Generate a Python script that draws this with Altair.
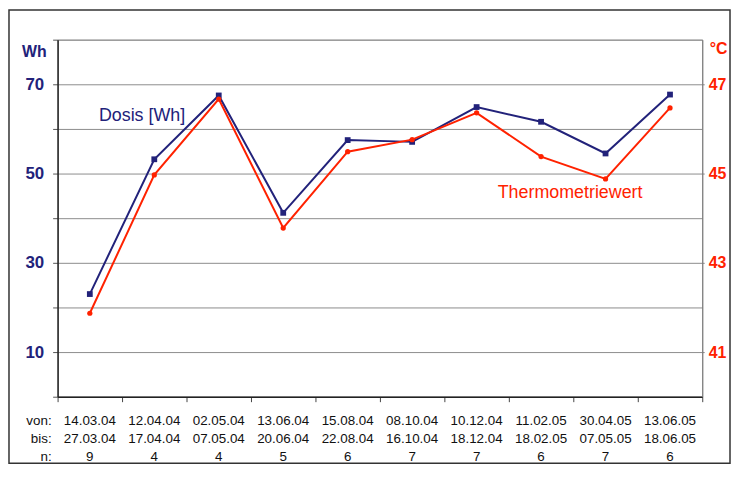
import altair as alt
import pandas as pd

von = ["14.03.04", "12.04.04", "02.05.04", "13.06.04", "15.08.04",
       "08.10.04", "10.12.04", "11.02.05", "30.04.05", "13.06.05"]
bis = ["27.03.04", "17.04.04", "07.05.04", "20.06.04", "22.08.04",
       "16.10.04", "18.12.04", "18.02.05", "07.05.05", "18.06.05"]
n_vals = [9, 4, 4, 5, 6, 7, 7, 6, 7, 6]
dosis = [23.0, 53.2, 67.5, 41.2, 57.5, 57.1, 64.9, 61.6, 54.5, 67.7]
thermo = [41.87, 44.97, 46.67, 43.78, 45.49, 45.76, 46.36, 45.38, 44.88, 46.47]

NAVY = "#22227a"
RED = "#ff2200"
FONT = "Liberation Sans"

df = pd.DataFrame({
    "i": list(range(len(von))),
    "von": von,
    "bis": bis,
    "n": [str(v) for v in n_vals],
    "dosis": dosis,
    "thermo": thermo,
})

x_enc = alt.X(
    "i:Q",
    scale=alt.Scale(domain=[-0.5, 9.5], nice=False, zero=False),
    axis=alt.Axis(values=[k - 0.5 for k in range(11)], labels=False, title=None,
                  grid=False, tickSize=5, tickColor="#444", domainColor="#222",
                  domainWidth=1.5),
)

y_blue = alt.Y(
    "dosis:Q",
    scale=alt.Scale(domain=[0, 80], nice=False, zero=False),
    axis=alt.Axis(values=list(range(0, 81, 10)),
                  labelExpr="datum.value % 20 == 10 ? datum.label : ''",
                  title="Wh", titleAngle=0, titleX=-24, titleY=12,
                  titleAlign="center", titleBaseline="middle",
                  titleColor=NAVY, titleFontSize=16, titleFontWeight="bold",
                  labelColor=NAVY, labelFontSize=17, labelFontWeight="bold",
                  labelPadding=9, tickSize=5, tickColor="#555",
                  grid=True, gridColor="#8c8c8c", gridWidth=1,
                  domainColor="#222", domainWidth=1.5),
)

y_red_axis = alt.Axis(orient="right", values=[41, 43, 45, 47],
                      title="°C", titleAngle=0, titleX=16, titleY=9,
                      titleAlign="center", titleBaseline="middle",
                      titleColor=RED, titleFontSize=16, titleFontWeight="bold",
                      labelColor=RED, labelFontSize=16, labelFontWeight="bold",
                      labelPadding=4, tickSize=2, tickColor="#888",
                      grid=False, domainColor="#777")
red_scale = alt.Scale(domain=[40, 48], nice=False, zero=False)

base = alt.Chart(df)

blue_line = base.mark_line(color=NAVY, strokeWidth=2).encode(x=x_enc, y=y_blue)
blue_pts = base.mark_square(color=NAVY, size=34, opacity=1).encode(x=x_enc, y=y_blue)
blue_lbl = alt.Chart(pd.DataFrame({"i": [0.81], "dosis": [62.9], "t": ["Dosis [Wh]"]})).mark_text(
    color=NAVY, fontSize=18, font=FONT, align="center", baseline="middle"
).encode(x=alt.X("i:Q"), y=alt.Y("dosis:Q"), text="t:N")

row_y = [385, 403, 421]
TXT = dict(fontSize=13.5, font=FONT, color="#111", baseline="middle")
von_txt = base.mark_text(**TXT).encode(x=alt.X("i:Q"), y=alt.value(row_y[0]), text="von:N")
bis_txt = base.mark_text(**TXT).encode(x=alt.X("i:Q"), y=alt.value(row_y[1]), text="bis:N")
n_txt = base.mark_text(**TXT).encode(x=alt.X("i:Q"), y=alt.value(row_y[2]), text="n:N")

one = alt.Data(values=[{"a": 1}])
hdrs = []
for txt, yy in zip(["von:", "bis:", "n:"], row_y):
    hdrs.append(alt.Chart(one).mark_text(text=txt, align="right", **TXT)
                .encode(x=alt.value(-6), y=alt.value(yy)))

frame = alt.Chart(one).mark_rect(filled=False, stroke="#333", strokeWidth=1.5).encode(
    x=alt.value(-49), x2=alt.value(678), y=alt.value(-30), y2=alt.value(427))

blue = alt.layer(blue_line, blue_pts, blue_lbl, von_txt, bis_txt, n_txt, *hdrs, frame)

red_line = base.mark_line(color=RED, strokeWidth=2).encode(
    x=x_enc, y=alt.Y("thermo:Q", scale=red_scale, axis=y_red_axis))
red_pts = base.mark_circle(color=RED, size=28, opacity=1).encode(
    x=x_enc, y=alt.Y("thermo:Q", scale=red_scale, axis=y_red_axis))
red_lbl = alt.Chart(pd.DataFrame({"i": [7.45], "thermo": [44.56], "t": ["Thermometriewert"]})).mark_text(
    color=RED, fontSize=18, font=FONT, align="center", baseline="middle"
).encode(x=alt.X("i:Q"), y=alt.Y("thermo:Q", scale=red_scale, axis=y_red_axis), text="t:N")

red = alt.layer(red_line, red_pts, red_lbl)

chart = alt.layer(blue, red).resolve_scale(y="independent").properties(
    width=650, height=360,
    padding={"left": 50, "top": 30, "right": 29, "bottom": 76},
    autosize=alt.AutoSizeParams(type="none"),
    background="white",
).configure_view(stroke="#999", strokeWidth=1).configure_axis(
    labelFont=FONT, titleFont=FONT
)

chart.save("out.html", embed_options={"renderer": "svg", "actions": False})
